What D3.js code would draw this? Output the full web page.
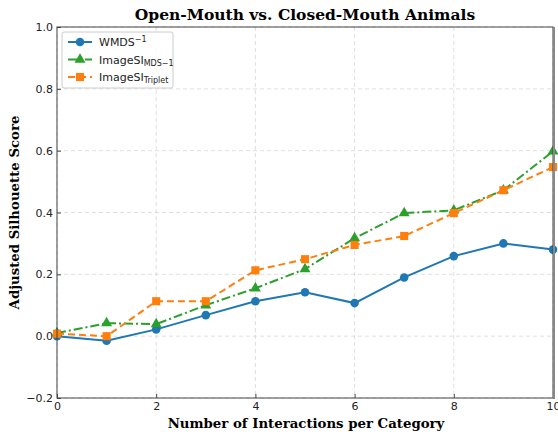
<!DOCTYPE html>
<html><head><meta charset="utf-8">
<script src="https://cdn.jsdelivr.net/npm/d3@7"></script>
<style>body{margin:0;background:#fff}svg{display:block}</style>
</head><body><svg id="c" width="558" height="432"></svg>
<script>
const xValues = [0,1,2,3,4,5,6,7,8,9,10];
const wmds = [0.0,-0.015,0.022,0.068,0.113,0.142,0.107,0.19,0.259,0.30,0.28];
const imageSiMds = [0.01,0.042,0.039,0.10,0.155,0.217,0.317,0.398,0.407,0.472,0.598];
const imageSiTriplet = [0.008,0.0,0.113,0.113,0.213,0.249,0.295,0.324,0.398,0.472,0.547];
const xTicks = [0,2,4,6,8,10];
const yTicks = [-0.2,0,0.2,0.4,0.6,0.8,1.0];

const svg = d3.select('#c');
const L=57,R=553,T=27,B=398;
const x = d3.scaleLinear().domain([0,10]).range([L,R]);
const y = d3.scaleLinear().domain([-0.2,1.0]).range([B,T]);

// grid
const g = svg.append('g');
xTicks.forEach(t=>g.append('line').attr('x1',x(t)).attr('x2',x(t)).attr('y1',T).attr('y2',B)
  .attr('stroke','#b0b0b0').attr('stroke-opacity',0.5).attr('stroke-dasharray','4,3').attr('stroke-width',0.8));
yTicks.forEach(t=>g.append('line').attr('x1',L).attr('x2',R).attr('y1',y(t)).attr('y2',y(t))
  .attr('stroke','#b0b0b0').attr('stroke-opacity',0.5).attr('stroke-dasharray','4,3').attr('stroke-width',0.8));

// axes
const xa = svg.append('g').attr('transform',`translate(0,${B})`)
  .call(d3.axisBottom(x).tickValues(xTicks).tickFormat(d3.format('d')).tickSizeInner(-4).tickSizeOuter(0).tickPadding(4));
const ya = svg.append('g').attr('transform',`translate(${L},0)`)
  .call(d3.axisLeft(y).tickValues(yTicks).tickFormat(d=>d3.format('.1f')(d).replace('-','\u2212')).tickSizeInner(-4).tickSizeOuter(0).tickPadding(4));
[xa,ya].forEach(a=>{a.select('.domain').remove();a.selectAll('text').attr('font-family','DejaVu Sans').attr('font-size',11).attr('fill','#222');a.selectAll('line').attr('stroke','#444');});

const series = [
  {name:'wmds', data:wmds, color:'#1f77b4', dash:null, marker:'circle'},
  {name:'mds', data:imageSiMds, color:'#2ca02c', dash:'9,3,2,3', marker:'triangle'},
  {name:'trip', data:imageSiTriplet, color:'#ff7f0e', dash:'7,4', marker:'square'}
];
const line = d3.line().x((d,i)=>x(xValues[i])).y(d=>y(d));
const sym = {circle:d3.symbolCircle, triangle:d3.symbolTriangle, square:d3.symbolSquare};
const sizes = {circle:58, triangle:52, square:66};
series.forEach(s=>{
  svg.append('path').datum(s.data).attr('d',line).attr('fill','none').attr('stroke',s.color)
    .attr('stroke-width',2).attr('stroke-dasharray',s.dash);
  svg.append('g').selectAll('path').data(s.data).join('path')
    .attr('d',d3.symbol().type(sym[s.marker]).size(sizes[s.marker]))
    .attr('transform',(d,i)=>`translate(${x(xValues[i])},${y(d)})`).attr('fill',s.color);
});

// frame
svg.append('rect').attr('x',L).attr('y',T).attr('width',R-L).attr('height',B-T).attr('fill','none').attr('stroke','#444').attr('stroke-width',1);
svg.append('line').attr('x1',R+1).attr('x2',R+1).attr('y1',T).attr('y2',B+1).attr('stroke','#888').attr('stroke-width',2);

// title & labels
svg.append('text').attr('x',(L+R)/2).attr('y',20).attr('text-anchor','middle').attr('font-family','DejaVu Serif').attr('font-weight','bold').attr('font-size',15.5).text('Open-Mouth vs. Closed-Mouth Animals');
svg.append('text').attr('x',(L+R)/2+1).attr('y',428).attr('text-anchor','middle').attr('font-family','DejaVu Serif').attr('font-weight','bold').attr('font-size',13.3).text('Number of Interactions per Category');
svg.append('text').attr('transform',`translate(19,${(T+B)/2}) rotate(-90)`).attr('text-anchor','middle').attr('font-family','DejaVu Serif').attr('font-weight','bold').attr('font-size',13.3).text('Adjusted Silhouette Score');

// legend
const lg = svg.append('g').attr('transform','translate(62,32)');
lg.append('rect').attr('width',111).attr('height',56).attr('rx',2).attr('fill','#fff').attr('fill-opacity',0.8).attr('stroke','#ccc');
const labels = [
  {s:series[0], main:'WMDS', sup:'\u22121', sub:null},
  {s:series[1], main:'ImageSI', sub:'MDS\u22121', sup:null},
  {s:series[2], main:'ImageSI', sub:'Triplet', sup:null}
];
labels.forEach((l,i)=>{
  const yy = 10+i*17.5;
  lg.append('line').attr('x1',6).attr('x2',30).attr('y1',yy).attr('y2',yy).attr('stroke',l.s.color).attr('stroke-width',2).attr('stroke-dasharray',l.s.dash);
  lg.append('path').attr('d',d3.symbol().type(sym[l.s.marker]).size(sizes[l.s.marker])).attr('transform',`translate(18,${yy})`).attr('fill',l.s.color);
  const t = lg.append('text').attr('x',37).attr('y',yy+4).attr('font-family','DejaVu Sans').attr('font-size',11).attr('fill','#222');
  t.append('tspan').text(l.main);
  if(l.sup) t.append('tspan').attr('font-size',8).attr('dy',-4).text(l.sup);
  if(l.sub) t.append('tspan').attr('font-size',8).attr('dy',2).text(l.sub);
});
</script></body></html>
